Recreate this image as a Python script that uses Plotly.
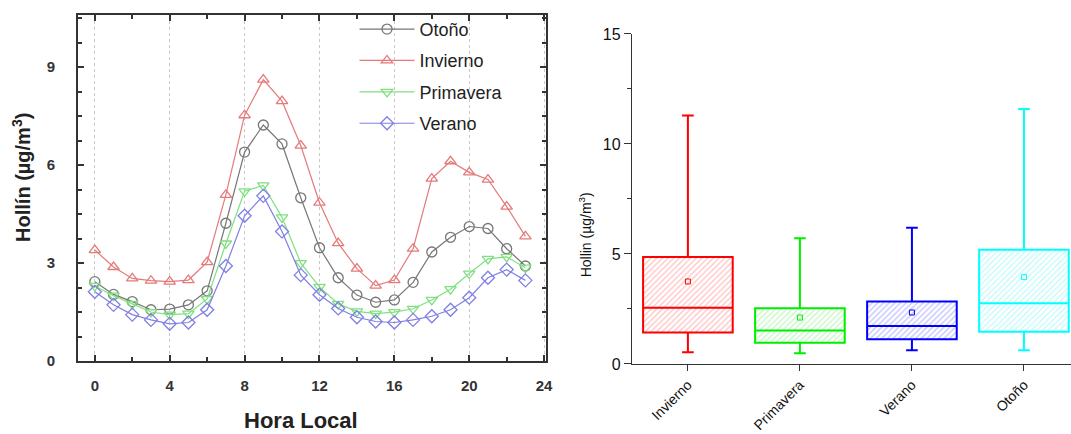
import plotly.graph_objects as go

# ---------------- Left panel data (hourly means) ----------------
hours = list(range(24))
otono = [2.43, 2.04, 1.82, 1.57, 1.59, 1.72, 2.15, 4.22, 6.40, 7.23, 6.65, 5.00,
         3.47, 2.55, 2.02, 1.80, 1.87, 2.41, 3.34, 3.79, 4.12, 4.06, 3.44, 2.91]
invierno = [3.40, 2.88, 2.53, 2.46, 2.43, 2.48, 3.03, 5.09, 7.53, 8.62, 7.96, 6.60,
            4.85, 3.61, 2.83, 2.31, 2.48, 3.44, 5.59, 6.12, 5.78, 5.56, 4.73, 3.82]
primavera = [2.30, 2.00, 1.75, 1.50, 1.42, 1.45, 1.90, 3.60, 5.20, 5.38, 4.40, 3.00,
             2.27, 1.75, 1.52, 1.45, 1.50, 1.60, 1.87, 2.20, 2.68, 3.13, 3.19, 2.86]
verano = [2.12, 1.72, 1.42, 1.26, 1.14, 1.18, 1.57, 2.91, 4.45, 5.06, 3.97, 2.63,
          2.03, 1.61, 1.34, 1.21, 1.18, 1.26, 1.37, 1.57, 1.94, 2.55, 2.80, 2.47]

line_names = ["Otoño", "Invierno", "Primavera", "Verano"]
line_colors = ["#777777", "#e57a7a", "#7fe07f", "#7f7fe6"]
line_symbols = ["circle-open", "triangle-up-open", "triangle-down-open", "diamond-open"]

# ---------------- Right panel data (box statistics) ----------------
seasons = ["Invierno", "Primavera", "Verano", "Otoño"]
q_low = [0.53, 0.49, 0.62, 0.62]
q1 = [1.43, 0.97, 1.12, 1.47]
median = [2.56, 1.52, 1.73, 2.76]
q3 = [4.86, 2.53, 2.84, 5.19]
q_high = [11.30, 5.72, 6.19, 11.59]
means = [3.75, 2.11, 2.34, 3.95]
box_colors = ["#ff0000", "#00ee00", "#0000ff", "#00ffff"]
hatch_colors = ["rgba(255,0,0,0.45)", "rgba(0,220,0,0.45)", "rgba(0,0,255,0.45)", "rgba(0,230,230,0.45)"]

font_main = "Arial, Liberation Sans, sans-serif"

fig = go.Figure()

series = [otono, invierno, primavera, verano]
for name, vals, col, sym in zip(line_names, series, line_colors, line_symbols):
    fig.add_trace(go.Scatter(
        x=hours, y=vals, name=name, mode="lines+markers",
        line=dict(color=col, width=1.2),
        marker=dict(symbol=sym, size=10, color=col, line=dict(color=col, width=1.3)),
        legendgroup=name, xaxis="x", yaxis="y"))

# hatched box bodies
for s, a, b, hc in zip(seasons, q1, q3, hatch_colors):
    fig.add_trace(go.Bar(
        x=[s], y=[b - a], base=[a], width=0.8, showlegend=False,
        marker=dict(color="white", line=dict(width=0),
                    pattern=dict(shape="/", fgcolor=hc, bgcolor="white", size=4, solidity=0.35)),
        xaxis="x2", yaxis="y2", hoverinfo="skip"))

for s, lo, a, m, b, hi, col in zip(seasons, q_low, q1, median, q3, q_high, box_colors):
    fig.add_trace(go.Box(
        x=[s], q1=[a], median=[m], q3=[b], lowerfence=[lo], upperfence=[hi],
        width=0.8, whiskerwidth=0.13, fillcolor="rgba(0,0,0,0)",
        line=dict(color=col, width=2), showlegend=False, boxpoints=False,
        xaxis="x2", yaxis="y2"))

for s, mn, col in zip(seasons, means, box_colors):
    fig.add_trace(go.Scatter(
        x=[s], y=[mn], mode="markers", showlegend=False,
        marker=dict(symbol="square-open", size=5, color=col, line=dict(width=1, color=col)),
        xaxis="x2", yaxis="y2"))

fig.update_layout(
    width=1071, height=434,
    margin=dict(l=0, r=0, t=0, b=0, autoexpand=False),
    paper_bgcolor="white", plot_bgcolor="white",
    barmode="overlay", boxmode="overlay",
    font=dict(family=font_main, color="#222222"),
    xaxis=dict(
        domain=[0.0728, 0.5098], range=[-0.9, 24.1], automargin=False,
        tickvals=[0, 4, 8, 12, 16, 20, 24], ticks="inside", ticklen=6, tickwidth=1.5,
        tickcolor="#333333",
        minor=dict(dtick=2, tick0=0, ticks="inside", ticklen=4, tickcolor="#333333", showgrid=False),
        showline=True, linecolor="#333333", linewidth=1.8, mirror="ticks",
        showgrid=True, gridcolor="#c8c8c8", griddash="dot", gridwidth=1,
        tickfont=dict(size=15, weight="bold", color="#333333"),
        ticklabelstandoff=10, zeroline=False, anchor="y"),
    yaxis=dict(
        domain=[0.1682, 0.9654], range=[0, 10.6], automargin=False,
        tickvals=[0, 3, 6, 9], ticks="inside", ticklen=6, tickwidth=1.5,
        tickcolor="#333333",
        minor=dict(dtick=0.75, tick0=0, ticks="inside", ticklen=4, tickcolor="#333333", showgrid=False),
        showline=True, linecolor="#333333", linewidth=1.8, mirror="ticks",
        showgrid=False, zeroline=False,
        tickfont=dict(size=15, weight="bold", color="#333333"),
        ticklabelstandoff=18, anchor="x"),
    xaxis2=dict(
        domain=[0.590, 1.0], range=[-0.5, 3.42], type="category", automargin=False,
        categoryorder="array", categoryarray=seasons,
        ticks="outside", ticklen=6, tickcolor="#333333", tickwidth=1.3,
        showline=True, linecolor="#333333", linewidth=1.3, showgrid=False, zeroline=False,
        tickangle=-45, tickfont=dict(size=14, color="#111111"), ticklabelstandoff=0, anchor="y2"),
    yaxis2=dict(
        domain=[0.1613, 0.9217], range=[0, 15], automargin=False,
        tickvals=[0, 5, 10, 15], ticks="outside", ticklen=7, tickcolor="#333333", tickwidth=1.3,
        minor=dict(dtick=2.5, tick0=0, ticks="outside", ticklen=4, tickcolor="#333333", showgrid=False),
        showline=True, linecolor="#333333", linewidth=1.3, showgrid=False, zeroline=False,
        tickfont=dict(size=16, color="#111111"), anchor="x2"),
    legend=dict(
        x=0.331, y=0.975, xanchor="left", yanchor="top",
        bgcolor="rgba(0,0,0,0)", font=dict(size=18, color="#222222"),
        tracegroupgap=5, itemwidth=55),
    annotations=[
        dict(text="Hollín (µg/m<sup>3</sup>)", x=22 / 1071, y=0.59, xref="paper", yref="paper",
             textangle=-90, showarrow=False, font=dict(size=20, weight="bold", color="#222222"),
             xanchor="center", yanchor="middle"),
        dict(text="Hora Local", x=0.281, y=0.03, xref="paper", yref="paper",
             showarrow=False, font=dict(size=22, weight="bold", color="#222222"),
             xanchor="center", yanchor="middle"),
        dict(text="Hollin (µg/m<sup>3</sup>)", x=585 / 1071, y=0.46, xref="paper", yref="paper",
             textangle=-90, showarrow=False, font=dict(size=14, color="#111111"),
             xanchor="center", yanchor="middle"),
    ],
)

fig.write_html("out.html")
